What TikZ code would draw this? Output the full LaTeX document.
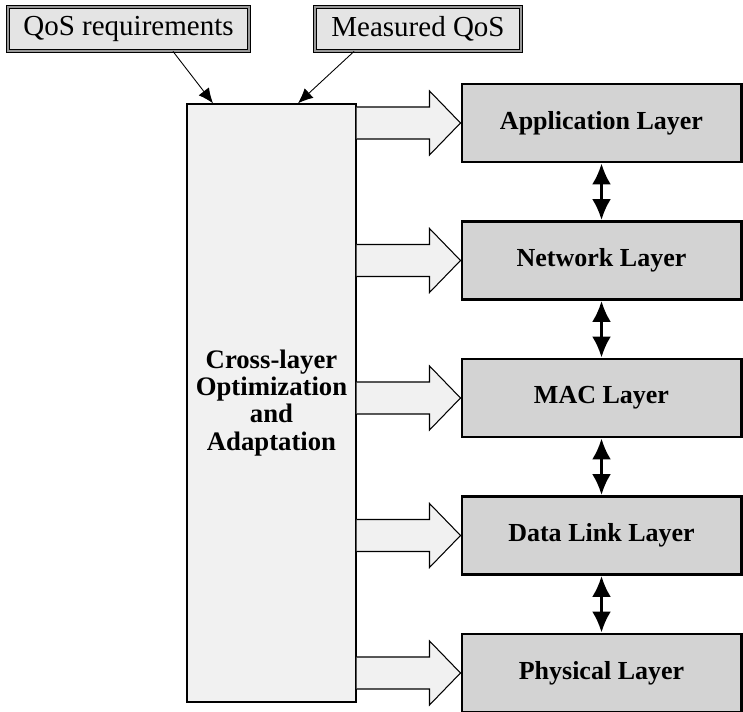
\documentclass[tikz,border=0pt]{standalone}
\usepackage{fontspec}
\setmainfont{Liberation Serif}
\usetikzlibrary{arrows.meta,positioning,calc}
\definecolor{ctop}{HTML}{E4E4E4}
\definecolor{cpale}{HTML}{F1F1F1}
\definecolor{clayer}{HTML}{D3D3D3}
\tikzset{
  qbox/.style={rectangle, draw=black, double=black!40, line width=0.5pt,
               double distance=0.9pt, fill=ctop, font=\fontsize{16.5}{18}\selectfont,
               minimum height=0.88cm, inner sep=0pt},
  cbox/.style={rectangle, draw=black, line width=0.8pt, fill=cpale, align=center,
               font=\fontsize{15.2}{15.4}\selectfont\bfseries,
               minimum width=3.38cm, minimum height=11.96cm, inner sep=0pt},
  lay/.style={rectangle, draw=black, line width=1.7pt, fill=clayer,
              font=\fontsize{14.8}{16}\selectfont\bfseries,
              minimum width=5.58cm, minimum height=1.56cm, inner sep=0pt},
  qfl/.style={-{Latex[length=3mm, width=2.6mm]}, draw=black, line width=0.5pt},
  lfl/.style={{Latex[length=4.2mm, width=3.8mm]}-{Latex[length=4.2mm, width=3.8mm]},
              draw=black, line width=1.6pt},
  barrow/.style={draw=black, line width=0.6pt, fill=cpale, line join=miter}
}

\begin{document}
\begin{tikzpicture}

\useasboundingbox (0,0) rectangle (14.86,-14.24);

\node[qbox, minimum width=4.82cm] (req) at (2.57,-0.58) {QoS requirements};
\node[qbox, minimum width=4.12cm] (meas) at (8.36,-0.58) {Measured QoS};

\node[cbox] (cl) at (5.43,-8.06)
 {Cross-layer\\Optimization\\and\\Adaptation};

\node[lay] (app) at (12.03,-2.46) {Application Layer};
\node[lay] (net) at (12.03,-5.21) {Network Layer};
\node[lay] (mac) at (12.03,-7.96) {MAC Layer};
\node[lay] (dll) at (12.03,-10.71) {Data Link Layer};
\node[lay] (phy) at (12.03,-13.46) {Physical Layer};

\draw[qfl] ($(req.south)+(0.89,0)$) -- ($(cl.north)+(-1.17,0)$);
\draw[qfl] ($(meas.south)+(-1.28,0)$) -- ($(cl.north)+(0.53,0)$);

\draw[barrow] ($(cl.east |- app.west)+(0,0.32)$) -- ($(app.west)+(-0.62,0.32)$) -- ++(0,0.32)
  -- (app.west) -- ($(app.west)+(-0.62,-0.64)$) -- ++(0,0.32) -- ($(cl.east |- app.west)+(0,-0.32)$);
\draw[barrow] ($(cl.east |- net.west)+(0,0.32)$) -- ($(net.west)+(-0.62,0.32)$) -- ++(0,0.32)
  -- (net.west) -- ($(net.west)+(-0.62,-0.64)$) -- ++(0,0.32) -- ($(cl.east |- net.west)+(0,-0.32)$);
\draw[barrow] ($(cl.east |- mac.west)+(0,0.32)$) -- ($(mac.west)+(-0.62,0.32)$) -- ++(0,0.32)
  -- (mac.west) -- ($(mac.west)+(-0.62,-0.64)$) -- ++(0,0.32) -- ($(cl.east |- mac.west)+(0,-0.32)$);
\draw[barrow] ($(cl.east |- dll.west)+(0,0.32)$) -- ($(dll.west)+(-0.62,0.32)$) -- ++(0,0.32)
  -- (dll.west) -- ($(dll.west)+(-0.62,-0.64)$) -- ++(0,0.32) -- ($(cl.east |- dll.west)+(0,-0.32)$);
\draw[barrow] ($(cl.east |- phy.west)+(0,0.32)$) -- ($(phy.west)+(-0.62,0.32)$) -- ++(0,0.32)
  -- (phy.west) -- ($(phy.west)+(-0.62,-0.64)$) -- ++(0,0.32) -- ($(cl.east |- phy.west)+(0,-0.32)$);

\draw[lfl] (app.south) -- (net.north);
\draw[lfl] (net.south) -- (mac.north);
\draw[lfl] (mac.south) -- (dll.north);
\draw[lfl] (dll.south) -- (phy.north);

\end{tikzpicture}
\end{document}
